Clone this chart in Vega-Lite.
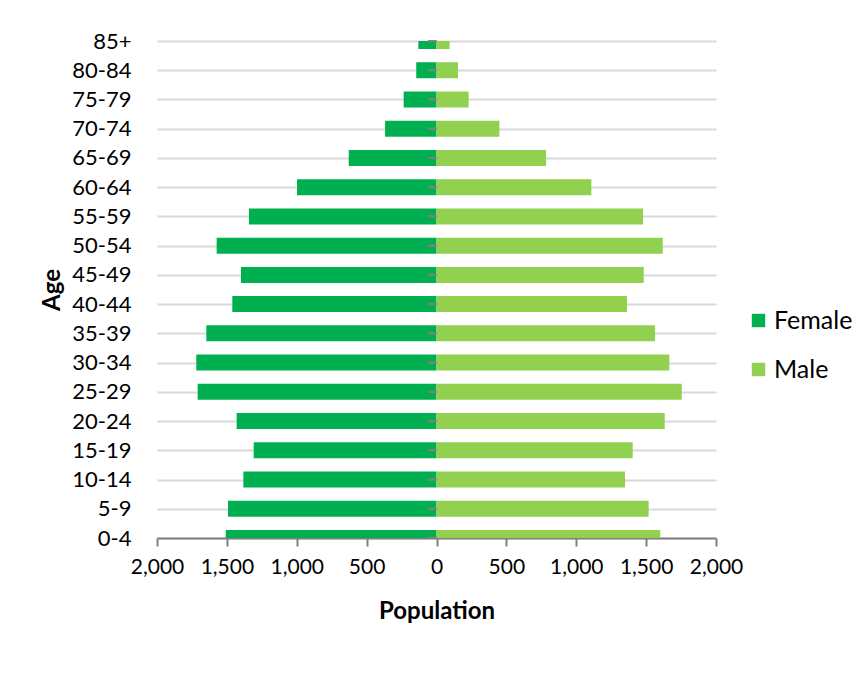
{
  "$schema": "https://vega.github.io/schema/vega-lite/v6.json",
  "width": 559,
  "height": 497,
  "autosize": {"type": "none"},
  "padding": {"left": 157, "top": 41, "right": 147, "bottom": 139},
  "background": "white",
  "config": {
    "view": {"stroke": null},
    "font": "Lato",
    "axis": {"labelFont": "Lato", "titleFont": "Lato", "labelColor": "#000000", "titleColor": "#000000"},
    "legend": {"labelFont": "Lato"}
  },
  "data": {
    "values": [
      {"age": "85+", "sex": "Female", "pop": -130},
      {"age": "80-84", "sex": "Female", "pop": -145},
      {"age": "75-79", "sex": "Female", "pop": -235},
      {"age": "70-74", "sex": "Female", "pop": -368},
      {"age": "65-69", "sex": "Female", "pop": -628},
      {"age": "60-64", "sex": "Female", "pop": -998},
      {"age": "55-59", "sex": "Female", "pop": -1342},
      {"age": "50-54", "sex": "Female", "pop": -1573},
      {"age": "45-49", "sex": "Female", "pop": -1399},
      {"age": "40-44", "sex": "Female", "pop": -1461},
      {"age": "35-39", "sex": "Female", "pop": -1647},
      {"age": "30-34", "sex": "Female", "pop": -1719},
      {"age": "25-29", "sex": "Female", "pop": -1709},
      {"age": "20-24", "sex": "Female", "pop": -1430},
      {"age": "15-19", "sex": "Female", "pop": -1308},
      {"age": "10-14", "sex": "Female", "pop": -1382},
      {"age": "5-9", "sex": "Female", "pop": -1492},
      {"age": "0-4", "sex": "Female", "pop": -1508},
      {"age": "85+", "sex": "Male", "pop": 94},
      {"age": "80-84", "sex": "Male", "pop": 154},
      {"age": "75-79", "sex": "Male", "pop": 230},
      {"age": "70-74", "sex": "Male", "pop": 450},
      {"age": "65-69", "sex": "Male", "pop": 784},
      {"age": "60-64", "sex": "Male", "pop": 1108},
      {"age": "55-59", "sex": "Male", "pop": 1478},
      {"age": "50-54", "sex": "Male", "pop": 1619},
      {"age": "45-49", "sex": "Male", "pop": 1483},
      {"age": "40-44", "sex": "Male", "pop": 1363},
      {"age": "35-39", "sex": "Male", "pop": 1564},
      {"age": "30-34", "sex": "Male", "pop": 1666},
      {"age": "25-29", "sex": "Male", "pop": 1755},
      {"age": "20-24", "sex": "Male", "pop": 1633},
      {"age": "15-19", "sex": "Male", "pop": 1404},
      {"age": "10-14", "sex": "Male", "pop": 1349},
      {"age": "5-9", "sex": "Male", "pop": 1518},
      {"age": "0-4", "sex": "Male", "pop": 1601}
    ]
  },
  "encoding": {
    "y": {
      "field": "age",
      "type": "nominal",
      "sort": ["85+","80-84","75-79","70-74","65-69","60-64","55-59","50-54","45-49","40-44","35-39","30-34","25-29","20-24","15-19","10-14","5-9","0-4"],
      "scale": {"type": "point", "padding": 0},
      "axis": {
        "title": "Age",
        "titleFontSize": 24,
        "titleFontWeight": "bold",
        "titlePadding": 7,
        "labelFontSize": 22,
        "labelPadding": 26,
        "labelOverlap": false,
        "domain": false,
        "ticks": false,
        "grid": true,
        "gridColor": "#d9d9d9",
        "gridWidth": 2
      }
    }
  },
  "layer": [
    {
      "mark": {"type": "bar", "height": 16, "clip": true},
      "encoding": {
        "x": {
          "field": "pop",
          "type": "quantitative",
          "stack": null,
          "scale": {"domain": [-2000, 2000], "nice": false},
          "axis": {
            "title": "Population",
            "titleFontSize": 24,
            "titleFontWeight": "bold",
            "titlePadding": 22,
            "values": [-2000, -1500, -1000, -500, 0, 500, 1000, 1500, 2000],
            "labelExpr": "format(abs(datum.value), ',')",
            "labelFontSize": 21,
            "labelPadding": 10,
            "labelOverlap": false,
            "labelBound": false,
            "labelFlush": false,
            "grid": false,
            "domainColor": "#808080",
            "domainWidth": 2,
            "tickColor": "#808080",
            "tickWidth": 2,
            "tickSize": 8
          }
        },
        "color": {
          "field": "sex",
          "type": "nominal",
          "scale": {"domain": ["Female", "Male"], "range": ["#00B050", "#92D050"]},
          "legend": {
            "title": null,
            "orient": "none",
            "legendX": 589,
            "legendY": 267,
            "symbolType": "square",
            "symbolSize": 180,
            "symbolStrokeWidth": 0,
            "labelFontSize": 25,
            "labelColor": "#000000",
            "rowPadding": 23,
            "labelOffset": 3
          }
        }
      }
    },
    {
      "mark": {"type": "rule", "color": "#808080", "strokeWidth": 2},
      "encoding": {"x": {"datum": 0}}
    },
    {
      "mark": {"type": "tick", "orient": "horizontal", "size": 8, "thickness": 2, "xOffset": -4, "color": "#808080", "opacity": 1},
      "encoding": {"x": {"datum": 0}}
    }
  ]
}
